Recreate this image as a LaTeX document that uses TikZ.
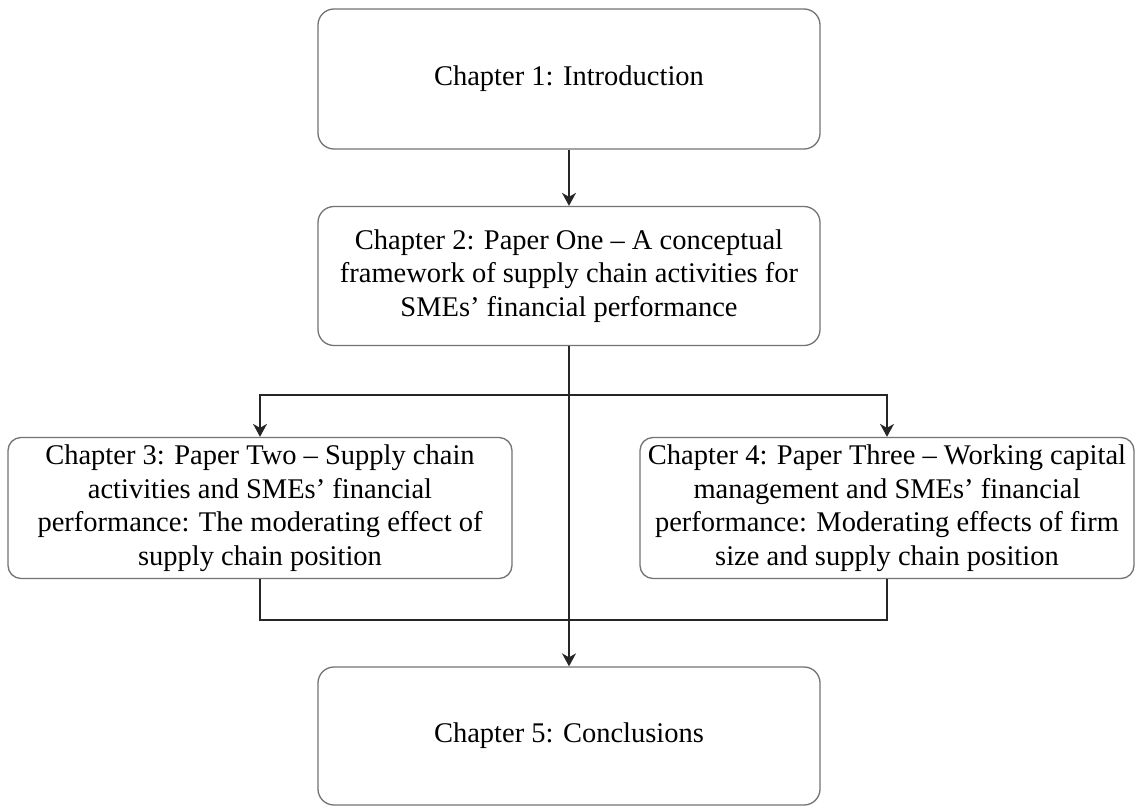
\documentclass[tikz,border=0pt]{standalone}
\usepackage{fontspec}
\setmainfont{Liberation Serif}
\usetikzlibrary{arrows.meta}
\begin{document}
\begin{tikzpicture}[x=1pt,y=-1pt,
  chapbox/.style={draw=black!55, line width=1.3pt, rounded corners=16pt, fill=white,
    align=center, inner sep=0pt, font=\fontsize{28.5}{33.5}\selectfont},
  link/.style={draw=black!85, line width=1.4pt},
  arr/.style={link, -{Stealth[length=13pt,width=14pt,inset=4pt]}}]
\useasboundingbox[fill=white] (0,0) rectangle (1136,809);

% chapter boxes
\node[chapbox, minimum width=502pt, minimum height=140pt] (b1) at (569,79)
  {Chapter 1: Introduction};
\node[chapbox, minimum width=502pt, minimum height=139pt] (b2) at (569,276)
  {Chapter 2: Paper One -- A conceptual\\framework of supply chain activities for\\SMEs' financial performance};
\node[chapbox, rounded corners=13pt, minimum width=504pt, minimum height=141pt] (b3) at (260,508)
  {Chapter 3: Paper Two -- Supply chain\\activities and SMEs' financial\\performance: The moderating effect of\\supply chain position};
\node[chapbox, rounded corners=13pt, minimum width=494pt, minimum height=141pt] (b4) at (887,508)
  {Chapter 4: Paper Three -- Working capital\\management and SMEs' financial\\performance: Moderating effects of firm\\size and supply chain position};
\node[chapbox, minimum width=502pt, minimum height=138pt] (b5) at (569,736)
  {Chapter 5: Conclusions};

% branching and joining points of the connectors
\coordinate (split) at (569,395);
\coordinate (merge) at (569,620);

\draw[arr] (b1) -- (b2);
\draw[arr] (b2.south) -- (b5.north);
\draw[arr] (split) -| (b3.north);
\draw[arr] (split) -| (b4.north);
\draw[link] (b3.south) |- (merge) -| (b4.south);
\end{tikzpicture}
\end{document}
